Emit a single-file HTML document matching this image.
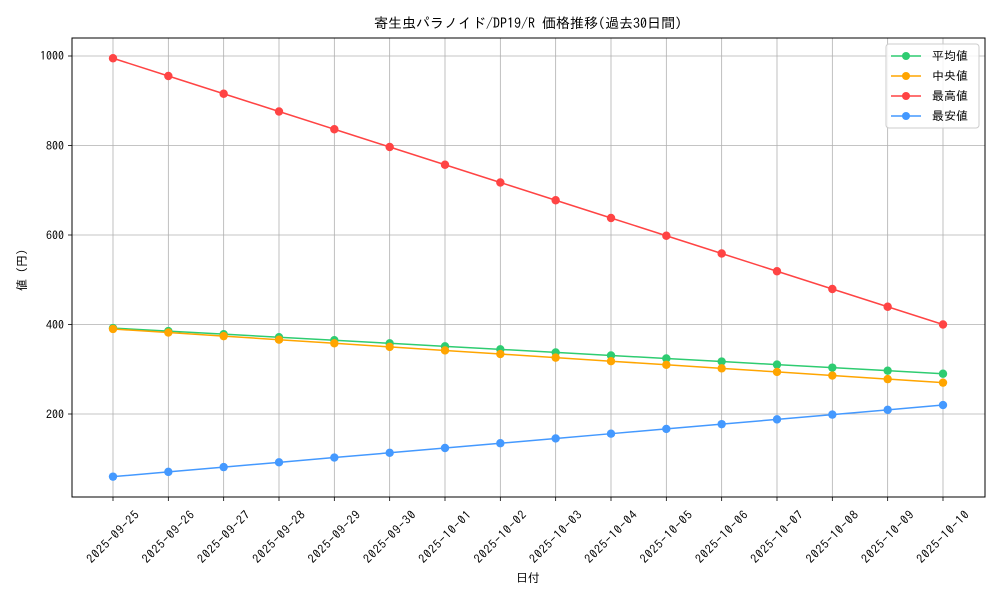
<!DOCTYPE html>
<html><head><meta charset="utf-8"><style>
body{margin:0;background:#fff}
svg text{font-family:"IPAGothic","Noto Sans CJK JP",sans-serif;font-size:12px;fill:#000}
</style></head><body>
<svg id="s" width="1000" height="600" xmlns="http://www.w3.org/2000/svg">
<rect width="1000" height="600" fill="#fff"/>
<g id="grid" stroke="#b0b0b0" stroke-width="0.8"></g>
<rect x="72" y="38" width="913" height="459" fill="none" stroke="#000" stroke-width="1"/>
<text x="528" y="28" text-anchor="middle" style="font-size:14px">寄生虫パラノイド/DP19/R 価格推移(過去30日間)</text>
<g text-anchor="end">
<text x="64" y="60">1000</text><text x="64" y="150">800</text><text x="64" y="239.5">600</text><text x="64" y="329">400</text><text x="64" y="418.5">200</text>
</g>
<text transform="translate(26,270) rotate(-90)" text-anchor="middle">値 (円)</text>
<text x="528" y="582" text-anchor="middle">日付</text>
<g id="xl" text-anchor="middle">
<text transform="translate(113,537) rotate(-45)" y="4" textLength="68">2025-09-25</text>
<text transform="translate(168.3,537) rotate(-45)" y="4" textLength="68">2025-09-26</text>
<text transform="translate(223.7,537) rotate(-45)" y="4" textLength="68">2025-09-27</text>
<text transform="translate(279,537) rotate(-45)" y="4" textLength="68">2025-09-28</text>
<text transform="translate(334.3,537) rotate(-45)" y="4" textLength="68">2025-09-29</text>
<text transform="translate(389.7,537) rotate(-45)" y="4" textLength="68">2025-09-30</text>
<text transform="translate(445,537) rotate(-45)" y="4" textLength="68">2025-10-01</text>
<text transform="translate(500.3,537) rotate(-45)" y="4" textLength="68">2025-10-02</text>
<text transform="translate(555.7,537) rotate(-45)" y="4" textLength="68">2025-10-03</text>
<text transform="translate(611,537) rotate(-45)" y="4" textLength="68">2025-10-04</text>
<text transform="translate(666.3,537) rotate(-45)" y="4" textLength="68">2025-10-05</text>
<text transform="translate(721.7,537) rotate(-45)" y="4" textLength="68">2025-10-06</text>
<text transform="translate(777,537) rotate(-45)" y="4" textLength="68">2025-10-07</text>
<text transform="translate(832.3,537) rotate(-45)" y="4" textLength="68">2025-10-08</text>
<text transform="translate(887.7,537) rotate(-45)" y="4" textLength="68">2025-10-09</text>
<text transform="translate(943,537) rotate(-45)" y="4" textLength="68">2025-10-10</text>
</g>
<g id="series"></g>
<g>
<rect x="886" y="44" width="93" height="84" rx="3" fill="#fff" fill-opacity="0.85" stroke="#ccc"/>
<line x1="891" y1="56" x2="921" y2="56" stroke="#2ecc71" stroke-width="1.5"/><circle cx="906" cy="56" r="4" fill="#2ecc71"/>
<line x1="891" y1="76" x2="921" y2="76" stroke="#ffa500" stroke-width="1.5"/><circle cx="906" cy="76" r="4" fill="#ffa500"/>
<line x1="891" y1="96" x2="921" y2="96" stroke="#ff4444" stroke-width="1.5"/><circle cx="906" cy="96" r="4" fill="#ff4444"/>
<line x1="891" y1="116" x2="921" y2="116" stroke="#4499ff" stroke-width="1.5"/><circle cx="906" cy="116" r="4" fill="#4499ff"/>
<text x="932" y="60">平均値</text><text x="932" y="80"> 中央値</text><text x="932" y="100">最高値</text><text x="932" y="120">最安値</text>
</g>
</svg>
<script>
var ns="http://www.w3.org/2000/svg",g=document.getElementById('grid'),se=document.getElementById('series');
function X(i){return 113+i*55.333}function Y(v){return 56+(1000-v)*0.4475}
function el(p,t,a){var e=document.createElementNS(ns,t);for(var k in a)e.setAttribute(k,a[k]);p.appendChild(e);return e}
for(var i=0;i<16;i++){el(g,'line',{x1:X(i),x2:X(i),y1:38,y2:497});el(g,'line',{x1:X(i),x2:X(i),y1:497,y2:501,stroke:'#000'})}
[200,400,600,800,1000].forEach(function(v){el(g,'line',{x1:72,x2:985,y1:Y(v),y2:Y(v)});el(g,'line',{x1:68,x2:72,y1:Y(v),y2:Y(v),stroke:'#000'})});
var S=[['#2ecc71',392,290],['#ffa500',390,270],['#ff4444',995,400],['#4499ff',60,220]];
S.forEach(function(s){var pts=[];for(var i=0;i<16;i++){var v=s[1]+(s[2]-s[1])*i/15;pts.push(X(i)+','+Y(v))}
el(se,'polyline',{points:pts.join(' '),fill:'none',stroke:s[0],'stroke-width':1.5});
pts.forEach(function(p){var q=p.split(',');el(se,'circle',{cx:q[0],cy:q[1],r:4.2,fill:s[0]})})});
</script>
</body></html>
